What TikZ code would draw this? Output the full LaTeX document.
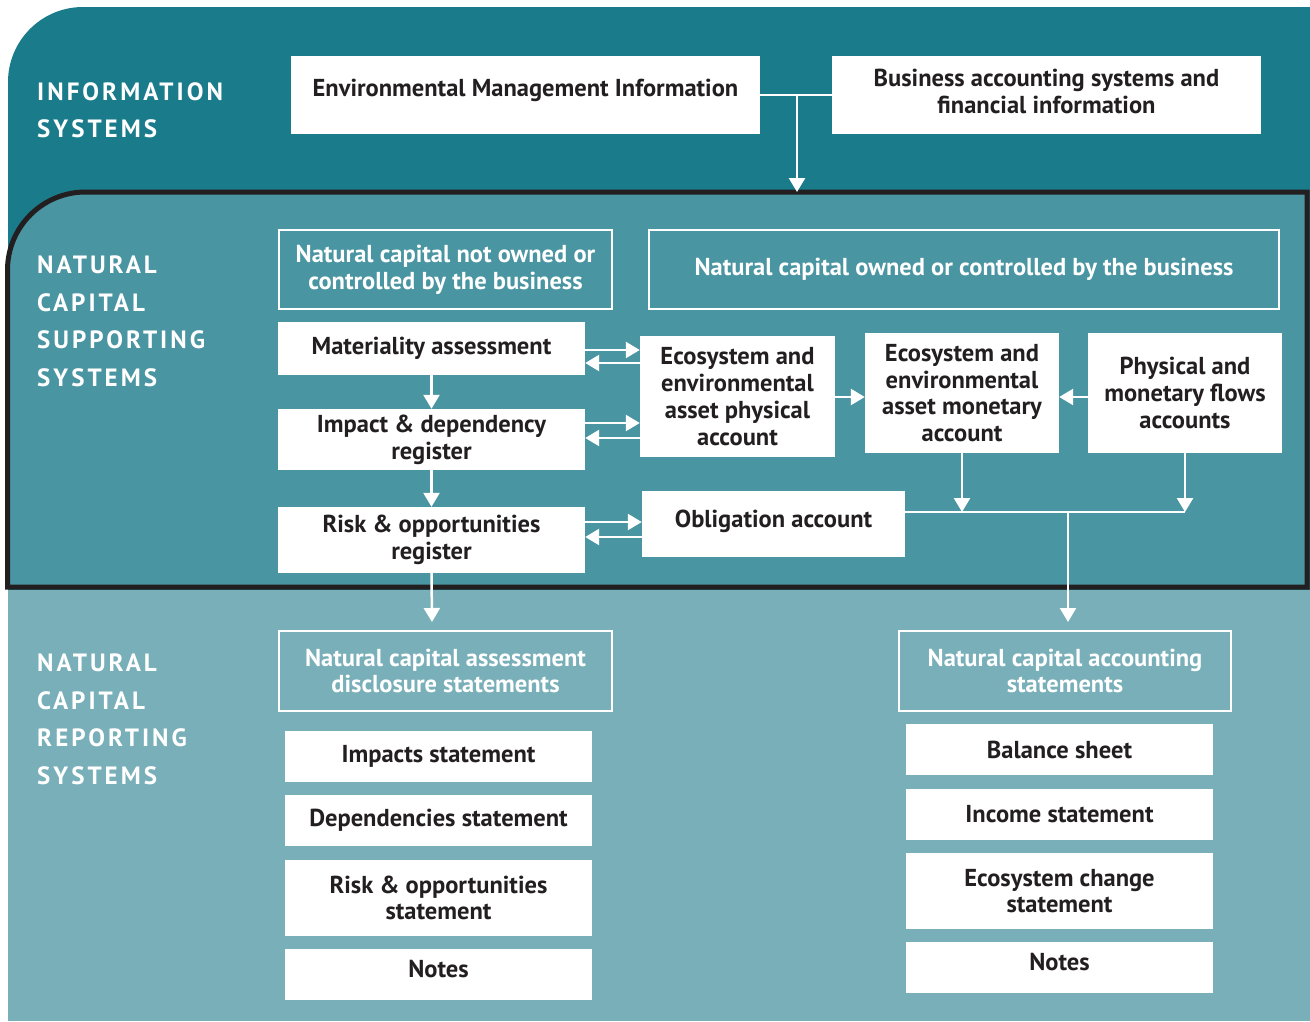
\documentclass[tikz,border=0pt]{standalone}
\usepackage{fontspec}
\setmainfont{PT Sans}
\newfontfamily\seclabfont[LetterSpace=12]{PT Sans}
\usetikzlibrary{arrows.meta,calc}

\definecolor{infoteal}{HTML}{1A7B8B}
\definecolor{supteal}{HTML}{4A95A2}
\definecolor{repteal}{HTML}{78AFB8}
\definecolor{inkdark}{HTML}{231F20}

\tikzset{
  wbox/.style={fill=white, text=inkdark, align=center, inner sep=0pt,
    font=\bfseries\fontsize{24.5}{26.8}\selectfont},
  obox/.style={draw=white, line width=2.5pt, text=white, align=center, inner sep=0pt,
    font=\bfseries\fontsize{24.5}{26.8}\selectfont},
  seclabel/.style={anchor=north west, text=white, align=left, inner sep=0pt,
    font=\seclabfont\bfseries\fontsize{25}{37.5}\selectfont},
  link/.style={draw=white, line width=2.5pt},
  flow/.style={link, -{Triangle[width=16pt,length=14pt]}},
}

\begin{document}
\begin{tikzpicture}[x=1pt,y=-1pt]
\useasboundingbox (0,0) rectangle (1310,1021);

% bands
\fill[infoteal] (8,590) -- (8,82) arc[start angle=180,end angle=90,radius=75pt] -- (1310,7) -- (1310,590) -- cycle;
\fill[repteal] (8,590) rectangle (1310,1021);
\filldraw[fill=supteal, draw=inkdark, line width=5pt]
  (7.5,587) -- (7.5,270) arc[start angle=180,end angle=90,radius=78pt] -- (1307,192) -- (1307,587) -- cycle;

\node[seclabel] (lbinfo) at (37,82) {INFORMATION\\SYSTEMS};
\node[seclabel] (lbsup) at (37,256) {NATURAL\\CAPITAL\\SUPPORTING\\SYSTEMS};
\node[seclabel] (lbrep) at (37,654) {NATURAL\\CAPITAL\\REPORTING\\SYSTEMS};

% information systems
\node[wbox, minimum width=469pt, minimum height=78pt] (emi) at (525.5,95) {\raisebox{14pt}{Environmental Management Information}};
\node[wbox, minimum width=429pt, minimum height=78pt] (bas) at (1046.5,95) {Business accounting systems and\\financial information\rule[-8pt]{0pt}{8pt}};

% supporting systems
\node[obox, minimum width=333pt, minimum height=79pt] (notowned) at (445.5,269.5) {Natural capital not owned or\\controlled by the business};
\node[obox, minimum width=630pt, minimum height=79pt] (owned) at (964,269.5) {Natural capital owned or controlled by the business};
\node[wbox, minimum width=307pt, minimum height=53pt] (mat) at (431.5,348.5) {Materiality assessment};
\node[wbox, minimum width=307pt, minimum height=61pt] (imp) at (431.5,439.5) {Impact \& dependency\\register};
\node[wbox, minimum width=307pt, minimum height=66pt] (risk) at (431.5,540) {Risk \& opportunities\\register};
\node[wbox, minimum width=195pt, minimum height=121pt] (phys) at (737.5,396.5) {Ecosystem and\\environmental\\asset physical\\account};
\node[wbox, minimum width=194pt, minimum height=120pt] (mon) at (962,393) {Ecosystem and\\environmental\\asset monetary\\account};
\node[wbox, minimum width=194pt, minimum height=120pt] (flows) at (1185,393) {Physical and\\monetary flows\\accounts};
\node[wbox, minimum width=263pt, minimum height=66pt] (obl) at (773.5,524) {\raisebox{10pt}{Obligation account}};

% reporting systems
\node[obox, minimum width=333pt, minimum height=80pt] (disc) at (445.5,671) {Natural capital assessment\\disclosure statements};
\node[wbox, minimum width=307pt, minimum height=51pt] (imps) at (438.5,756.5) {Impacts statement};
\node[wbox, minimum width=307pt, minimum height=51pt] (deps) at (438.5,820.5) {Dependencies statement};
\node[wbox, minimum width=307pt, minimum height=76pt] (risks) at (438.5,898) {Risk \& opportunities\\statement};
\node[wbox, minimum width=307pt, minimum height=51pt] (notesl) at (438.5,974.5) {\raisebox{12pt}{Notes}};
\node[obox, minimum width=332pt, minimum height=80pt] (acct) at (1065,671) {Natural capital accounting\\statements};
\node[wbox, minimum width=307pt, minimum height=51pt] (bal) at (1059.5,749.5) {Balance sheet};
\node[wbox, minimum width=307pt, minimum height=51pt] (inc) at (1059.5,814.5) {Income statement};
\node[wbox, minimum width=307pt, minimum height=76pt] (eco) at (1059.5,891) {Ecosystem change\\statement};
\node[wbox, minimum width=307pt, minimum height=51pt] (notesr) at (1059.5,967.5) {\raisebox{12pt}{Notes}};

% connectors
\coordinate (infojoin) at (797,95);
\coordinate (supin) at (797,192);
\coordinate (repin) at (432,622);
\coordinate (accjoin) at (1068,512);
\coordinate (accin) at (1068,622);

\draw[link] (emi.east) -- (bas.west);
\draw[flow] (infojoin) -- (supin);

\draw[flow] (mat.south) -- (imp.north);
\draw[flow] (imp.south) -- (risk.north);
\draw[flow] (risk.south) -- (repin);

\draw[flow] (mat.east |- 0,350) -- (phys.west |- 0,350);
\draw[flow] (phys.west |- 0,363) -- (mat.east |- 0,363);
\draw[flow] (imp.east |- 0,423) -- (phys.west |- 0,423);
\draw[flow] (phys.west |- 0,438) -- (imp.east |- 0,438);
\draw[flow] (risk.east |- 0,522) -- (obl.west |- 0,522);
\draw[flow] (obl.west |- 0,537) -- (risk.east |- 0,537);

\draw[flow] (phys.east |- 0,397) -- (mon.west |- 0,397);
\draw[flow] (flows.west |- 0,397) -- (mon.east |- 0,397);

\draw[link] (obl.east |- accjoin) -- (flows.south |- accjoin);
\draw[flow] (mon.south) -- (mon.south |- accjoin);
\draw[flow] (flows.south) -- (flows.south |- accjoin);
\draw[flow] (accjoin) -- (accin);
\end{tikzpicture}
\end{document}
